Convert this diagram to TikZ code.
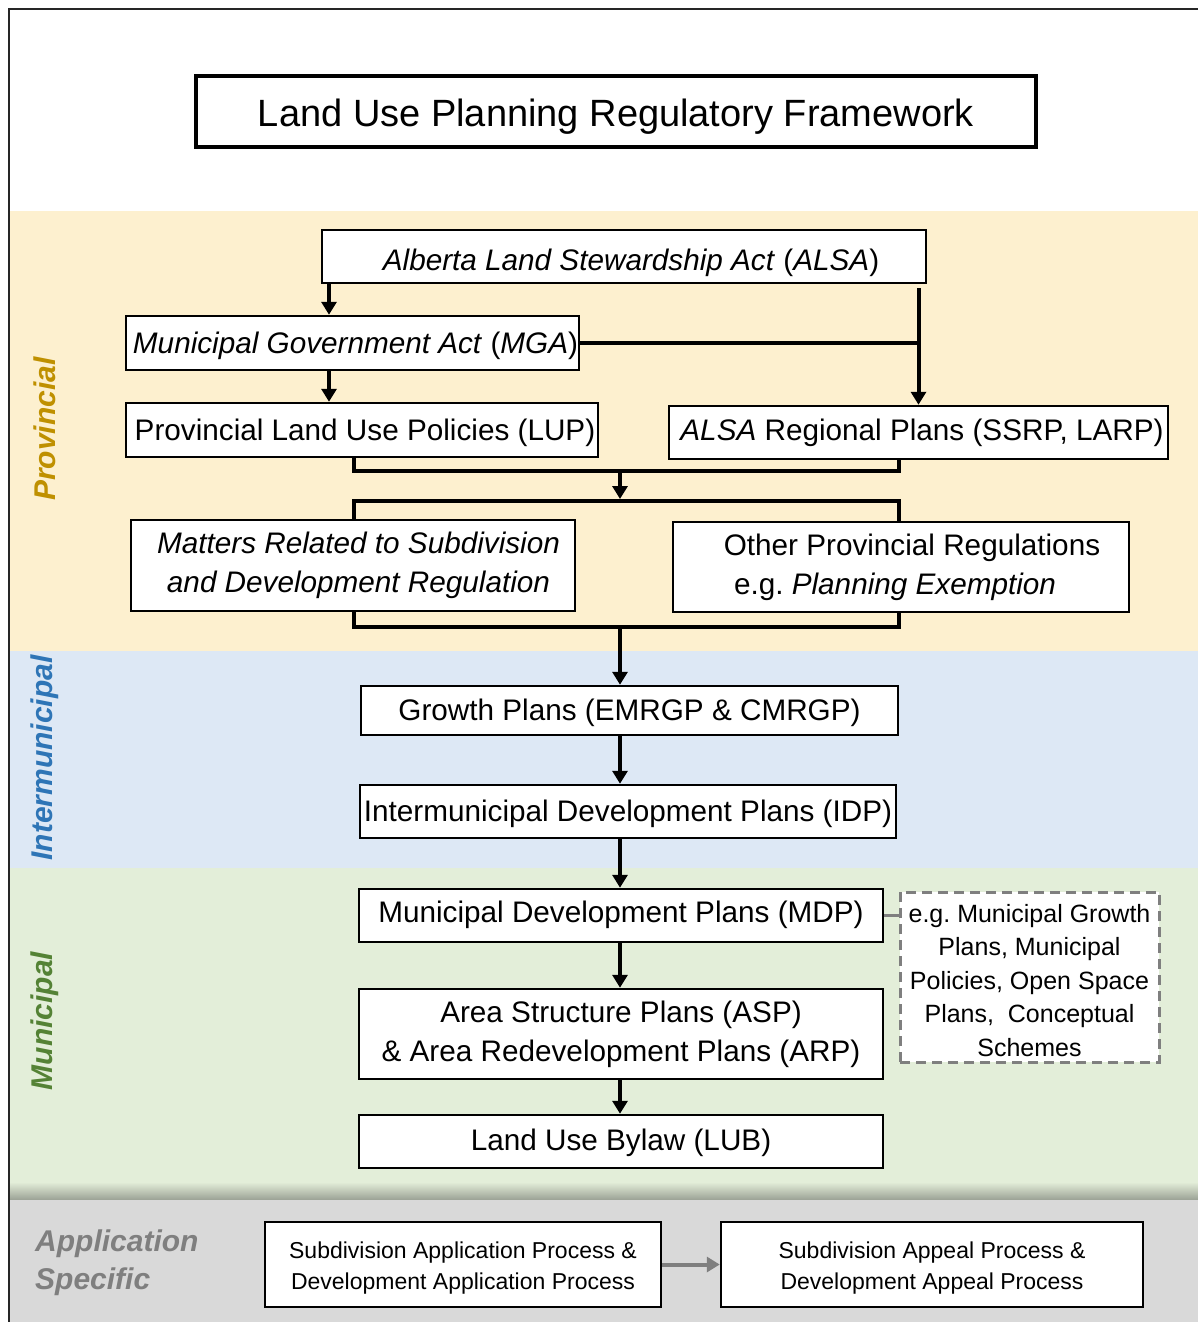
\documentclass[tikz,border=0pt]{standalone}
\usepackage{fontspec}
\setmainfont{Liberation Sans}
\usetikzlibrary{arrows.meta}
\frenchspacing
\newcommand\fsz[2]{\fontsize{#1}{#2}\selectfont}
\definecolor{provbg}{HTML}{FDF0CF}
\definecolor{interbg}{HTML}{DDE8F5}
\definecolor{munibg}{HTML}{E3EED9}
\definecolor{appbg}{HTML}{D9D9D9}
\definecolor{provtx}{HTML}{BF9000}
\definecolor{intertx}{HTML}{2E75B6}
\definecolor{munitx}{HTML}{548235}
\definecolor{apptx}{HTML}{7F7F7F}
\definecolor{dashgray}{HTML}{7F7F7F}
\tikzset{
  box/.style={draw, line width=2.5pt, fill=white, inner sep=0pt, align=center, font=\fsz{29.7}{39}},
  smallbox/.style={box, font=\fsz{23}{31}},
  egbox/.style={draw=dashgray, line width=3pt, dash pattern=on 10pt off 6pt, fill=white, inner sep=0pt, align=center, font=\fsz{25}{33.5}},
  bl/.style={text height=#1, text depth=0pt},
  conn/.style={line width=4pt, black},
  arr/.style={conn, -{Triangle[width=15pt,length=13pt]}},
  grayarr/.style={line width=4pt, dashgray, -{Triangle[width=15pt,length=13pt]}},
  side/.style={rotate=90, font=\fsz{30}{36}\bfseries\itshape}
}
\begin{document}
\begin{tikzpicture}[x=1pt,y=-1pt]
\useasboundingbox (0,0) rectangle (1198,1322);
% bands
\fill[white] (0,0) rectangle (1198,1322);
\fill[provbg] (10,211) rectangle (1198,651);
\fill[interbg] (10,651) rectangle (1198,868);
\fill[munibg] (10,868) rectangle (1198,1182);
\shade[top color=munibg, bottom color=black!30!munibg!85!gray] (10,1182) rectangle (1198,1200);
\fill[appbg] (10,1200) rectangle (1198,1322);
% frame
\draw[line width=2pt, black!85] (9,1322) -- (9,9) -- (1198,9);

% title
\node[draw, line width=3.5pt, fill=white, inner sep=0pt, minimum width=840pt, minimum height=71pt, font=\fsz{38}{44}, bl=29pt] (title) at (616,111.5) {Land Use Planning Regulatory Framework};

% side labels
\node[side, text=provtx] (lprov) at (45,429) {Provincial};
\node[side, text=intertx] (linter) at (45,758) {Intermunicipal};
\node[side, text=munitx] (lmuni) at (45,1021) {Municipal};
\node[anchor=west, align=left, inner sep=0pt, text=apptx, font=\fsz{30}{38}\bfseries\itshape] (lapp) at (35,1263) {Application\\Specific};

% provincial boxes
\node[box, bl=28.4pt, minimum width=604pt, minimum height=53pt] (alsa) at (624,256.5) {\kern14pt\textit{Alberta Land Stewardship Act} (\textit{ALSA})};
\node[box, bl=20.6pt, minimum width=453pt, minimum height=54pt] (mga) at (352.5,343) {\kern6pt\textit{Municipal Government Act} (\textit{MGA})};
\node[box, bl=20pt, minimum width=472pt, minimum height=54pt] (lup) at (362,430) {\kern6pt Provincial Land Use Policies (LUP)};
\node[box, bl=16pt, minimum width=499pt, minimum height=53pt] (reg) at (918.5,432.5) {\kern7pt\textit{ALSA} Regional Plans (SSRP, LARP)};
\node[box, minimum width=444pt, minimum height=91pt] (mat) at (353,565.5) {\hspace*{11pt}\textit{Matters Related to Subdivision}\\\hspace*{11pt}\textit{and Development Regulation}};
\node[box, minimum width=456pt, minimum height=90pt] (oth) at (901,567) {\hspace*{22pt}Other Provincial Regulations\\e.g. \textit{Planning Exemption}\hspace*{12pt}};

% intermunicipal
\node[box, bl=20.4pt, minimum width=537pt, minimum height=49pt] (gro) at (629.5,710.5) {Growth Plans (EMRGP \& CMRGP)};
\node[box, bl=20.4pt, minimum width=536pt, minimum height=53pt] (idp) at (628,811.5) {Intermunicipal Development Plans (IDP)};

% municipal
\node[box, bl=14.4pt, minimum width=524pt, minimum height=53pt] (mdp) at (621,915.5) {Municipal Development Plans (MDP)};
\node[box, minimum width=524pt, minimum height=90pt] (asp) at (621,1034) {Area Structure Plans (ASP)\\\& Area Redevelopment Plans (ARP)};
\node[box, bl=17pt, minimum width=524pt, minimum height=53pt] (lub) at (621,1141.5) {Land Use Bylaw (LUB)};
\node[egbox, minimum width=259pt, minimum height=170pt] (eg) at (1029.5,977) {\rule{0pt}{24.5pt}e.g. Municipal Growth\\Plans, Municipal\\Policies, Open Space\\Plans,\ \ Conceptual\\Schemes};

% application
\node[smallbox, minimum width=396pt, minimum height=85pt] (app1) at (463,1264.5) {\rule{0pt}{23.5pt}Subdivision Application Process \&\\Development Application Process};
\node[smallbox, minimum width=422pt, minimum height=85pt] (app2) at (932,1264.5) {\rule{0pt}{23.5pt}Subdivision Appeal Process \&\\Development Appeal Process};

% junction coordinates
\coordinate (c1) at (329,283);
\coordinate (jl) at (354,471);
\coordinate (jr) at (899,471);
\coordinate (jm) at (620,471);
\coordinate (bl) at (354,501);
\coordinate (br) at (899,501);
\coordinate (bm) at (620,499);
\coordinate (dl) at (354,627);
\coordinate (dr) at (899,627);
\coordinate (dm) at (620,627);

% connectors
\draw[arr] (alsa.south -| c1) -- (mga.north -| c1);
\draw[arr] (mga.south -| c1) -- (lup.north -| c1);
\draw[arr] ([yshift=-4pt]alsa.south -| reg.north) -- (reg.north);
\draw[conn] (mga.east) -- (mga.east -| reg.north);
\draw[conn] (lup.south -| jl) -- (jl) -- (jr) -- (reg.south -| jr);
\draw[arr] (jm) -- (bm);
\draw[conn] (mat.north -| bl) -- (bl) -- (br) -- (oth.north -| br);
\draw[conn] (mat.south -| dl) -- (dl) -- (dr) -- (oth.south -| dr);
\draw[arr] (dm) -- (gro.north -| dm);
\draw[arr] (gro.south -| dm) -- (idp.north -| dm);
\draw[arr] (idp.south -| dm) -- (mdp.north -| dm);
\draw[arr] (mdp.south -| dm) -- (asp.north -| dm);
\draw[arr] (asp.south -| dm) -- (lub.north -| dm);
\draw[line width=3pt, dashgray] (mdp.east) -- (eg.west |- mdp.east);
\draw[grayarr] (app1.east) -- (app2.west);
\end{tikzpicture}
\end{document}
